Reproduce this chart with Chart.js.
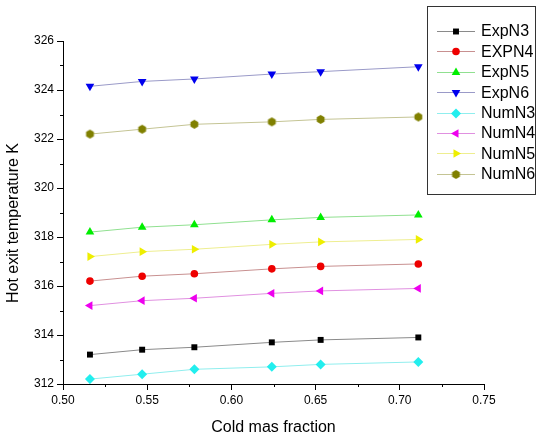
<!DOCTYPE html>
<html>
<head>
    <title>Hot exit temperature vs cold mass fraction</title>
    <script src="https://cdn.jsdelivr.net/npm/chart.js@4.4.0/dist/chart.umd.min.js"></script>
    <style>
        body { margin: 0; background: #fff; }
        #chart { display: block; }
    </style>
</head>
<body>
    <canvas id="chart" width="537" height="441"></canvas>

    <script>
        // values
        const coldFraction = [0.516, 0.547, 0.578, 0.624, 0.653, 0.711];
        const expN3 = [313.2, 313.4, 313.5, 313.7, 313.8, 313.9];
        const expN4 = [316.2, 316.4, 316.5, 316.7, 316.8, 316.9];
        const expN5 = [318.2, 318.4, 318.5, 318.7, 318.8, 318.9];
        const expN6 = [324.15, 324.35, 324.45, 324.65, 324.75, 324.95];
        const numN3 = [312.2, 312.4, 312.6, 312.7, 312.8, 312.9];
        const numN4 = [315.2, 315.4, 315.5, 315.7, 315.8, 315.9];
        const numN5 = [317.2, 317.4, 317.5, 317.7, 317.8, 317.9];
        const numN6 = [322.2, 322.4, 322.6, 322.7, 322.8, 322.9];

        const seriesNames = ['ExpN3', 'EXPN4', 'ExpN5', 'ExpN6', 'NumN3', 'NumN4', 'NumN5', 'NumN6'];
        const seriesValues = [expN3, expN4, expN5, expN6, numN3, numN4, numN5, numN6];

        const yTicks = [312, 314, 316, 318, 320, 322, 324, 326];
        const xTicks = [0.50, 0.55, 0.60, 0.65, 0.70, 0.75];

        // small hexagon marker for NumN6
        function hexagon(color, r) {
            const c = document.createElement('canvas');
            c.width = c.height = 2 * r + 2;
            const g = c.getContext('2d');
            g.fillStyle = color;
            g.beginPath();
            for (let i = 0; i < 6; i++) {
                const a = Math.PI / 6 + i * Math.PI / 3;
                const px = r + 1 + r * Math.cos(a), py = r + 1 + r * Math.sin(a);
                i ? g.lineTo(px, py) : g.moveTo(px, py);
            }
            g.closePath();
            g.fill();
            return c;
        }

        const styles = [
            { marker: '#000000', line: '#8a8a8a', shape: 'rect', radius: 4.2, rot: 0 },
            { marker: '#ee0000', line: '#c89090', shape: 'circle', radius: 3.8, rot: 0 },
            { marker: '#00ee00', line: '#90e090', shape: 'triangle', radius: 5, rot: 0 },
            { marker: '#0000ee', line: '#9a9ac8', shape: 'triangle', radius: 5, rot: 180 },
            { marker: '#22eeee', line: '#90eeee', shape: 'rectRot', radius: 5, rot: 0 },
            { marker: '#ee00ee', line: '#e090e0', shape: 'triangle', radius: 5, rot: -90 },
            { marker: '#eeee00', line: '#eeee90', shape: 'triangle', radius: 5, rot: 90 },
            { marker: '#808000', line: '#c4c494', shape: hexagon('#808000', 4.5), radius: 4.5, rot: 0 }
        ];

        const datasets = seriesNames.map((name, i) => ({
            label: name,
            data: coldFraction.map((x, j) => ({ x: x, y: seriesValues[i][j] })),
            showLine: true,
            borderColor: styles[i].line,
            borderWidth: 1,
            backgroundColor: styles[i].marker,
            pointBackgroundColor: styles[i].marker,
            pointBorderColor: styles[i].marker,
            pointBorderWidth: 0,
            pointStyle: styles[i].shape,
            pointRotation: styles[i].rot,
            pointRadius: styles[i].radius,
            pointHoverRadius: styles[i].radius
        }));

        // minor ticks, y title and the boxed legend
        const extras = {
            id: 'extras',
            afterDraw(chart) {
                const ctx = chart.ctx;
                const xs = chart.scales.x, ys = chart.scales.y;
                const area = chart.chartArea;
                ctx.save();
                ctx.strokeStyle = '#000';
                ctx.lineWidth = 1;
                ctx.beginPath();
                for (let v = 313; v < 326; v += 2) {
                    const py = Math.round(ys.getPixelForValue(v)) + 0.5;
                    ctx.moveTo(area.left - 3, py);
                    ctx.lineTo(area.left, py);
                }
                for (let k = 0; k < 5; k++) {
                    const px = Math.round(xs.getPixelForValue(0.525 + k * 0.05)) + 0.5;
                    ctx.moveTo(px, area.bottom);
                    ctx.lineTo(px, area.bottom + 3);
                }
                ctx.stroke();

                ctx.save();
                ctx.translate(14, 223);
                ctx.rotate(-Math.PI / 2);
                ctx.fillStyle = '#000';
                ctx.font = '16px "Liberation Sans", Arial, sans-serif';
                ctx.textAlign = 'center';
                ctx.textBaseline = 'middle';
                ctx.fillText('Hot exit temperature K', 0, 0);
                ctx.restore();

                // legend box
                ctx.fillStyle = '#fff';
                ctx.fillRect(427.5, 6.5, 108, 188);
                ctx.strokeStyle = '#333';
                ctx.strokeRect(427.5, 6.5, 108, 188);
                ctx.font = '16px "Liberation Sans", Arial, sans-serif';
                ctx.textAlign = 'left';
                ctx.textBaseline = 'middle';
                chart.data.datasets.forEach((ds, i) => {
                    const y = 31 + i * 20.4;
                    ctx.strokeStyle = ds.borderColor;
                    ctx.beginPath();
                    ctx.moveTo(437, Math.round(y) + 0.5);
                    ctx.lineTo(475, Math.round(y) + 0.5);
                    ctx.stroke();
                    ctx.fillStyle = ds.pointBackgroundColor;
                    Chart.helpers.drawPoint(ctx, {
                        pointStyle: ds.pointStyle,
                        rotation: ds.pointRotation,
                        radius: ds.pointRadius,
                        borderWidth: 0
                    }, 456, Math.round(y) + 0.5);
                    ctx.fillStyle = '#000';
                    ctx.fillText(ds.label, 481, y + 1);
                });
                ctx.restore();
            }
        };

        const tickFont = { family: '"Liberation Sans", Arial, sans-serif', size: 12 };

        new Chart(document.getElementById('chart'), {
            type: 'scatter',
            data: { datasets: datasets },
            options: {
                responsive: false,
                devicePixelRatio: 1,
                animation: false,
                layout: { padding: { top: 41, right: 53, left: 0, bottom: 0 } },
                plugins: {
                    legend: { display: false },
                    tooltip: { enabled: false }
                },
                scales: {
                    x: {
                        type: 'linear',
                        min: 0.5,
                        max: 0.75,
                        afterFit: s => { s.height = 57; },
                        afterBuildTicks: s => { s.ticks = xTicks.map(v => ({ value: v })); },
                        border: { color: '#000', width: 1 },
                        grid: { drawOnChartArea: false, color: '#000', tickLength: 6 },
                        ticks: {
                            color: '#000',
                            font: tickFont,
                            padding: 3,
                            maxRotation: 0,
                            callback: v => v.toFixed(2)
                        },
                        title: {
                            display: true,
                            text: 'Cold mas fraction',
                            color: '#000',
                            font: { family: '"Liberation Sans", Arial, sans-serif', size: 16 },
                            padding: { top: 0, bottom: 4 }
                        }
                    },
                    y: {
                        min: 312,
                        max: 326,
                        afterFit: s => { s.width = 63; },
                        afterBuildTicks: s => { s.ticks = yTicks.map(v => ({ value: v })); },
                        border: { color: '#000', width: 1 },
                        grid: { drawOnChartArea: false, color: '#000', tickLength: 6 },
                        ticks: { color: '#000', font: tickFont, padding: 3 }
                    }
                }
            },
            plugins: [extras]
        });
    </script>
</body>
</html>
